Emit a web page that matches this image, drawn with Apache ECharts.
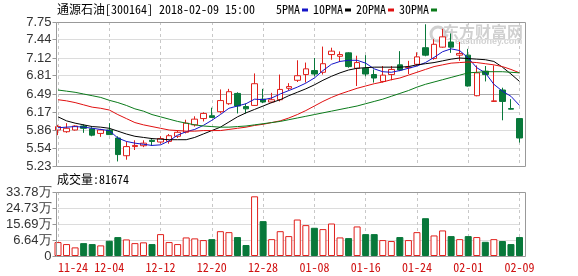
<!DOCTYPE html>
<html><head><meta charset="utf-8">
<script src="https://cdn.jsdelivr.net/npm/echarts@6/dist/echarts.min.js"></script>
<style>html,body{margin:0;padding:0;background:#fff}#c{width:578px;height:276px}</style>
</head><body><div id="c"></div><script>
// ---- data ----
const dates = ['11-24','11-27','11-28','11-29','11-30','12-01','12-04','12-05','12-06','12-07','12-08','12-11','12-12','12-13','12-14','12-15','12-18','12-19','12-20','12-21','12-22','12-25','12-26','12-27','12-28','12-29','01-02','01-03','01-04','01-05','01-08','01-09','01-10','01-11','01-12','01-15','01-16','01-17','01-18','01-19','01-22','01-23','01-24','01-25','01-26','01-29','01-30','01-31','02-01','02-02','02-05','02-06','02-07','02-08','02-09'];
const opens  = [5.86,5.83,5.86,5.93,5.88,5.80,5.86,5.72,5.41,5.57,5.585,5.68,5.65,5.66,5.75,5.82,5.95,6.06,6.11,6.18,6.32,6.50,6.27,6.29,6.40,6.35,6.39,6.59,6.73,6.83,6.90,6.87,7.18,7.15,7.21,6.94,6.94,6.83,6.71,6.83,7.00,6.95,7.01,7.30,7.11,7.31,7.40,7.17,7.17,6.46,6.89,6.36,6.56,6.235,6.06];
const closes = [5.92,5.89,5.93,5.89,5.77,5.86,5.78,5.43,5.57,5.59,5.63,5.66,5.71,5.76,5.82,5.98,6.05,6.15,6.08,6.375,6.53,6.28,6.23,6.67,6.35,6.39,6.57,6.62,6.81,6.93,6.84,7.02,7.24,7.18,6.97,7.04,6.84,6.77,6.82,6.92,6.91,6.96,7.14,7.17,7.36,7.49,7.31,7.20,6.63,6.86,6.83,6.37,6.36,6.225,5.72];
const lows   = [5.77,5.81,5.85,5.81,5.75,5.74,5.77,5.31,5.34,5.51,5.56,5.58,5.62,5.62,5.72,5.80,5.92,6.01,6.07,6.15,6.30,6.15,6.15,6.28,6.33,6.33,6.36,6.55,6.70,6.69,6.80,6.83,7.09,7.05,6.95,6.63,6.80,6.69,6.69,6.73,6.89,6.84,6.98,7.15,7.09,7.30,7.21,7.07,6.62,6.45,6.71,6.35,6.03,6.22,5.64];
const highs  = [5.95,5.98,5.94,5.96,5.91,5.88,5.98,5.75,5.66,5.68,5.68,5.70,5.75,5.79,5.855,6.04,6.10,6.17,6.25,6.57,6.58,6.52,6.32,6.85,6.58,6.51,6.83,6.68,7.08,7.04,7.12,7.32,7.30,7.235,7.22,7.16,7.17,6.92,6.98,6.98,7.24,7.07,7.22,7.71,7.45,7.63,7.55,7.40,7.28,6.99,6.98,6.99,6.60,6.40,6.07];
const ma5  = [5.90,5.91,5.92,5.91,5.89,5.87,5.85,5.72,5.66,5.63,5.61,5.59,5.60,5.67,5.77,5.83,5.87,5.94,6.03,6.13,6.24,6.28,6.32,6.40,6.39,6.42,6.49,6.55,6.61,6.68,6.77,6.90,7.01,7.06,7.08,7.08,7.03,6.93,6.88,6.87,6.90,6.94,6.98,7.04,7.13,7.23,7.28,7.25,7.12,6.95,6.86,6.66,6.54,6.45,6.29];
const ma10 = [6.09,6.02,5.98,5.95,5.92,5.91,5.89,5.84,5.79,5.75,5.73,5.71,5.70,5.69,5.69,5.69,5.73,5.79,5.85,5.91,6.00,6.09,6.16,6.22,6.28,6.34,6.39,6.46,6.52,6.58,6.65,6.73,6.80,6.86,6.91,6.94,6.95,6.96,6.96,6.96,6.96,6.97,7.00,7.02,7.04,7.07,7.10,7.12,7.11,7.10,7.09,7.06,6.96,6.84,6.71];
const ma20 = [6.39,6.37,6.34,6.30,6.26,6.24,6.21,6.13,6.06,5.99,5.95,5.92,5.89,5.86,5.85,5.84,5.84,5.85,5.85,5.85,5.87,5.89,5.91,5.94,5.96,5.99,6.02,6.07,6.13,6.20,6.28,6.36,6.43,6.49,6.54,6.59,6.63,6.67,6.70,6.74,6.77,6.82,6.87,6.92,6.97,7.00,7.03,7.04,7.05,7.04,7.02,7.00,6.97,6.92,6.86];
const ma30 = [6.56,6.54,6.52,6.49,6.46,6.43,6.38,6.34,6.29,6.23,6.19,6.13,6.09,6.05,6.01,5.98,5.95,5.93,5.92,5.91,5.91,5.92,5.93,5.95,5.97,5.99,6.01,6.04,6.07,6.10,6.13,6.16,6.19,6.22,6.25,6.28,6.32,6.36,6.40,6.45,6.50,6.55,6.61,6.66,6.70,6.74,6.78,6.82,6.86,6.87,6.88,6.88,6.88,6.87,6.86];
const volumes = [7.35,6.3,4.55,6.8,6.3,5.6,8.05,9.98,8.75,6.8,7.2,6.3,11.55,7.35,6.3,9.8,9.3,8.4,8.9,13.1,12.6,10.0,5.8,31.5,18.4,8.9,13.1,10.5,19.25,16.3,14.9,14.2,17.15,9.8,9.45,15.6,11.55,11.55,8.4,7.9,10.0,8.4,12.6,19.95,10.85,13.5,10.5,8.9,10.5,10.0,7.5,8.9,7.9,6.3,10.0];
const priceTicks = [5.23,5.54,5.86,6.17,6.49,6.81,7.12,7.44,7.75];
const volMax = 33.78;
const volTickLabels = ['0','6.64万','15.69万','24.73万','33.78万'];
const stockTitle = '通源石油';
const stockMeta = '[300164] 2018-02-09 15:00';
const volHeader = '成交量';
const volLast = '81674';
const maNames = ['5PMA','10PMA','20PMA','30PMA'];

// ---- styles / layout ----
const UP = '#e0201c', DOWN = '#08783a';
const maColors = ['#1414c8','#000000','#e01010','#0a7a1a'];
const MONO = "'Noto Sans Mono CJK SC','Liberation Mono',monospace";
const CJK = "'Noto Sans CJK SC',sans-serif";
const SANS = "'Liberation Sans',Arial,sans-serif";

// the reference draws its volume grid lines evenly spaced across the panel
const volGridPos = volTickLabels.map((_, k) => volMax * k / (volTickLabels.length - 1));

const kData = opens.map((o, i) => [o, closes[i], lows[i], highs[i]]);
const volData = volumes.map((v, i) => {
  const up = closes[i] >= opens[i];
  return { value: v, itemStyle: up ? { color: '#fff', borderColor: UP, borderWidth: 1 } : { color: DOWN, borderColor: DOWN, borderWidth: 1 } };
});

const chart = echarts.init(document.getElementById('c'), null, { renderer: 'canvas' });
const splitColors = priceTicks.map((t, i) => i === 4 ? '#a8a8a8' : '#dcdcdc');

const legendGraphics = [];
const legX = [276, 313, 356, 399];
maNames.forEach((n, i) => {
  legendGraphics.push({ type: 'text', left: legX[i], top: 3, style: { text: n, font: '12px ' + MONO, fill: '#000' } });
  legendGraphics.push({ type: 'rect', shape: { x: legX[i] + n.length * 6 + 2, y: 8.5, width: 6, height: 3 }, style: { fill: maColors[i] } });
});

chart.setOption({
  animation: false,
  grid: [
    { left: 58, top: 22, width: 461.5, height: 144 },
    { left: 58, top: 192, width: 461.5, height: 64 }
  ],
  xAxis: [
    { type: 'category', gridIndex: 0, data: dates, boundaryGap: false,
      axisLine: { show: false }, axisTick: { show: false }, axisLabel: { show: false },
      splitLine: { show: true, interval: 5, lineStyle: { color: '#c8c8c8', type: [3, 3] } } },
    { type: 'category', gridIndex: 1, data: dates, boundaryGap: false,
      axisLine: { show: false }, axisTick: { show: false },
      axisLabel: { interval: 5, color: '#d01010', fontFamily: MONO, fontSize: 12, margin: 5, alignMinLabel: 'left' },
      splitLine: { show: true, interval: 5, lineStyle: { color: '#c8c8c8', type: [3, 3] } } }
  ],
  yAxis: [
    { type: 'value', gridIndex: 0, min: 5.23, max: 7.75, offset: 1.5,
      axisLine: { show: false },
      axisTick: { show: true, length: 4, lineStyle: { color: '#999' }, customValues: priceTicks },
      axisLabel: { customValues: priceTicks, showMinLabel: true, showMaxLabel: true, formatter: v => Number(v).toFixed(2), color: '#333', fontSize: 13, fontFamily: SANS, margin: 5 },
      splitLine: { show: true, lineStyle: { color: splitColors, width: 1 } } },
    { type: 'value', gridIndex: 1, min: 0, max: volMax, offset: 1.5,
      axisLine: { show: false },
      axisTick: { show: true, length: 4, lineStyle: { color: '#999' }, customValues: volGridPos },
      axisLabel: { customValues: volGridPos, showMinLabel: true, showMaxLabel: true, color: '#333', fontSize: 13, fontFamily: SANS, margin: 5,
        formatter: v => { const k = volGridPos.findIndex(t => Math.abs(t - Number(v)) < 1e-6); return k >= 0 ? volTickLabels[k] : ''; } },
      splitLine: { show: true, lineStyle: { color: '#dcdcdc' } } }
  ],
  series: [
    { type: 'candlestick', xAxisIndex: 0, yAxisIndex: 0, data: kData, barWidth: 6, clip: false,
      itemStyle: { color: '#fff', color0: DOWN, borderColor: UP, borderColor0: DOWN, borderWidth: 1 } },
    ...[ma5, ma10, ma20, ma30].map((d, i) => ({
      type: 'line', name: maNames[i], xAxisIndex: 0, yAxisIndex: 0, data: d, symbol: 'none',
      lineStyle: { color: maColors[i], width: 1 }, z: 3, clip: false })),
    { type: 'bar', xAxisIndex: 1, yAxisIndex: 1, data: volData, barWidth: 7, clip: false }
  ],
  graphic: [
    { type: 'rect', shape: { x: 56.5, y: 22.5, width: 469, height: 144 }, style: { fill: 'none', stroke: '#999', lineWidth: 1 }, z: 10 },
    { type: 'rect', shape: { x: 56.5, y: 192.5, width: 469, height: 64 }, style: { fill: 'none', stroke: '#999', lineWidth: 1 }, z: 10 },
    { type: 'text', left: 57, top: 3, style: { text: '{a|' + stockTitle + '}{b|' + stockMeta + '}',
        rich: { a: { fontFamily: CJK, fontSize: 12, fill: '#000' }, b: { fontFamily: MONO, fontSize: 12, fill: '#000' } } } },
    { type: 'text', left: 57, top: 173, style: { text: '{a|' + volHeader + '}{b|:' + volLast + '}',
        rich: { a: { fontFamily: CJK, fontSize: 12, fill: '#000' }, b: { fontFamily: MONO, fontSize: 12, fill: '#000' } } } },
    ...legendGraphics,
    { type: 'text', left: 443, top: 24, z: 0, style: { text: '东方财富网', font: 'bold 16px ' + CJK, fill: 'rgba(150,150,150,0.45)' } },
    { type: 'text', left: 455, top: 37, z: 0, style: { text: 'eastmoney.com', font: 'bold 9px ' + SANS, fill: 'rgba(150,150,150,0.45)' } },
    { type: 'circle', shape: { cx: 438, cy: 34, r: 7 }, z: 0, style: { fill: 'none', stroke: 'rgba(150,150,150,0.45)', lineWidth: 3 } }
  ]
});
</script></body></html>
